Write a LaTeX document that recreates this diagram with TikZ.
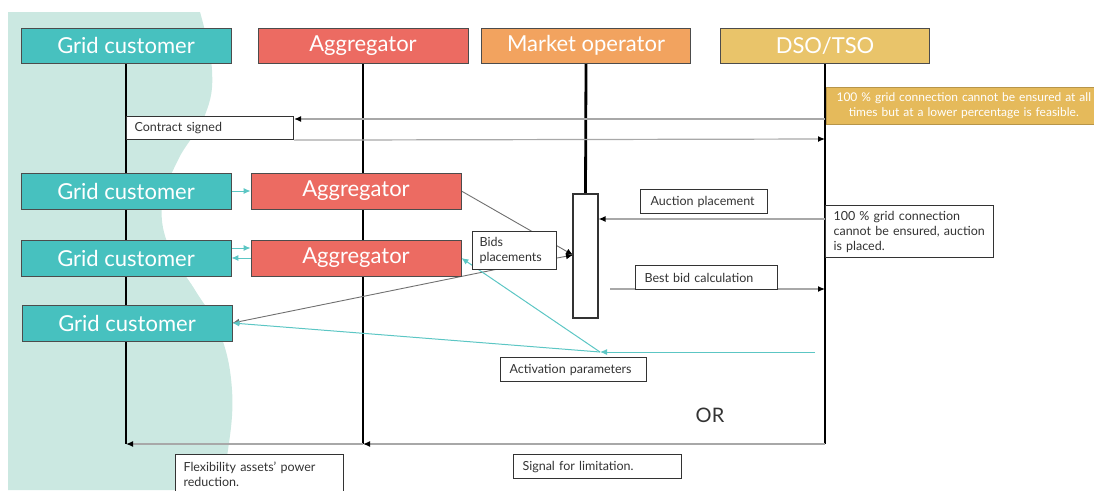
\documentclass[tikz,border=0pt]{standalone}
\usepackage{fontspec}
\setmainfont{Lato}
\usetikzlibrary{arrows.meta}

\definecolor{gcteal}{HTML}{47C1BF}
\definecolor{aggred}{HTML}{EC6B62}
\definecolor{moorange}{HTML}{F2A35F}
\definecolor{dsoyellow}{HTML}{E9C46A}
\definecolor{noteyellow}{HTML}{E5BA5B}
\definecolor{blobmint}{HTML}{CBE8E1}
\definecolor{msggray}{HTML}{A8A8A8}
\definecolor{diaggray}{HTML}{707070}
\definecolor{linkteal}{HTML}{5CC6C4}
\definecolor{txtgray}{HTML}{333333}

\pgfdeclarelayer{back}
\pgfdeclarelayer{wires}
\pgfsetlayers{back,wires,main}

\tikzset{
  actor/.style={draw=black!70, line width=0.8pt, text=white,
    minimum width=210pt, minimum height=36pt, inner sep=0pt,
    font=\fontsize{22}{24}\selectfont},
  gcbox/.style={actor, fill=gcteal},
  agbox/.style={actor, fill=aggred},
  label/.style={draw=txtgray, line width=1.1pt, fill=white, text=txtgray,
    anchor=north west, inner xsep=8pt, inner ysep=0pt, align=left,
    font=\fontsize{12.5}{15}\selectfont},
  life/.style={line width=2.8pt, black},
  msg/.style={msggray, line width=1.2pt, -{Latex[black,length=7pt,width=6pt]}},
  diag/.style={diaggray, line width=0.9pt},
  link/.style={linkteal, line width=1pt, -{Latex[linkteal,length=7pt,width=6pt]}}
}

\begin{document}
\begin{tikzpicture}[x=1pt,y=-1pt]
\useasboundingbox (0,0) rectangle (1094,490);

% mint backdrop behind the grid customer column
\begin{pgfonlayer}{back}
  \fill[blobmint] (8,490) -- (8,12) -- plot[smooth, tension=0.7] coordinates
    {(200,12) (212,70) (205,115) (178,160) (162,205) (170,250) (195,290)
     (220,333) (232,390) (228,450) (218,490)} -- cycle;
\end{pgfonlayer}

% actor headers
\node[gcbox, minimum height=35pt] (gch) at (126,45.5) {Grid customer};
\node[agbox, minimum height=35pt] (agh) at (363,45.5) {Aggregator};
\node[actor, fill=moorange, minimum height=35pt, minimum width=209pt] (moh) at (586,45.5) {Market operator};
\node[actor, fill=dsoyellow, minimum height=35pt, minimum width=209pt] (dsh) at (825,45.5) {DSO/TSO};

% repeated grid customers and aggregators
\node[gcbox] (gc2) at (126,191) {Grid customer};
\node[gcbox] (gc3) at (126,258) {Grid customer};
\node[gcbox] (gc4) at (127,323) {Grid customer};
\node[agbox] (ag2) at (356,191) {Aggregator};
\node[agbox] (ag3) at (356,258) {Aggregator};

% market operator activation bar
\node[draw=txtgray, line width=1.1pt, fill=white, minimum width=25pt,
  minimum height=124pt, inner sep=0pt] (act) at (585.5,256) {};

% DSO/TSO notes
\node[fill=noteyellow, draw=noteyellow!80!black, line width=0.6pt, anchor=west,
  minimum width=275pt, minimum height=37pt, text width=270pt, align=center,
  text=white, inner sep=0pt, font=\fontsize{12}{15}\selectfont] (feas) at (826,105.5)
  {100 \% grid connection cannot be ensured at all\\times but at a lower percentage is feasible.};
\node[label, minimum width=168pt, minimum height=52pt, text width=152pt] (auct) at (825,205)
  {100 \% grid connection\\cannot be ensured, auction\\is placed.};

% message labels
\node[label, minimum width=167pt, minimum height=23pt, text width=151pt] (cs) at (126,116) {Contract signed};
\node[label, minimum width=123pt, minimum height=24pt, text width=107pt, inner xsep=10pt] (ap) at (640,189) {Auction placement};
\node[label, minimum width=140pt, minimum height=24pt, text width=124pt, inner xsep=9pt] (bb) at (635,265) {Best bid calculation};
\node[label, minimum width=84pt, minimum height=38pt, text width=70pt, inner xsep=7pt] (bids) at (472,231) {Bids\\placements};
\node[label, minimum width=146pt, minimum height=24pt, text width=128pt, inner xsep=9pt] (actp) at (500,357) {Activation parameters};
\node[label, minimum width=168pt, minimum height=40pt, text width=152pt] (flex) at (175,454) {Flexibility assets' power\\reduction.};
\node[label, minimum width=168pt, minimum height=24pt, text width=150pt, inner xsep=9pt] (sig) at (513,454) {Signal for limitation.};
\node[text=txtgray, font=\fontsize{20}{24}\selectfont] (or) at (710,415) {OR};

% lifeline ends and free message ends
\coordinate (gcE) at (126,444);
\coordinate (agE) at (363,444);
\coordinate (dsE) at (825,444);
\coordinate (dC1) at (825,119);
\coordinate (dC2) at (825,139);
\coordinate (dA) at (825,219);
\coordinate (bbS) at (610,289);
\coordinate (bbE) at (825,289);
\coordinate (actIn) at (573,255);
\coordinate (bidsOut) at (498,269);
\coordinate (tS) at (815,352);
\coordinate (tM) at (600,352);

\begin{pgfonlayer}{wires}
  % lifelines
  \draw[life] (gch.south) -- (gcE);
  \draw[life] (agh.south) -- (agE);
  \draw[life] (moh.south) -- (act.north);
  \draw[life] (dsh.south) -- (dsE);

  % contract exchange
  \draw[msg] (dC1) -- (dC1 -| cs.east);
  \draw[msg] (cs.south east) -- (dC2);

  % auction and best bid
  \draw[msg] (dA) -- (dA -| act.east);
  \draw[msg] (bbS) -- (bbE);

  % bids towards the market operator
  \draw[diag, -{Latex[black,length=7pt,width=6pt]}] (ag2.east) -- (actIn);
  \draw[diag, -{Latex[black,length=7pt,width=6pt]}] (bids.east |- 0,258) -- (actIn);
  \draw[diag, -{Latex[diaggray,length=7pt,width=6pt]}] (bidsOut) -- (gc4.east);

  % activation parameters
  \draw[link] (tS) -- (tM);
  \draw[link] (tM) -- (ag3.east);
  \draw[link] (tM) -- (gc4.east);

  % grid customer <-> aggregator
  \draw[link] (gc2.east) -- (ag2.west);
  \draw[link] ([yshift=10pt]gc3.east) -- ([yshift=10pt]ag3.west);
  \draw[link] (ag3.west) -- (gc3.east);

  % limitation signal
  \draw[msg] (dsE) -- (agE);
  \draw[msg] (agE) -- (gcE);
\end{pgfonlayer}
\end{tikzpicture}
\end{document}
